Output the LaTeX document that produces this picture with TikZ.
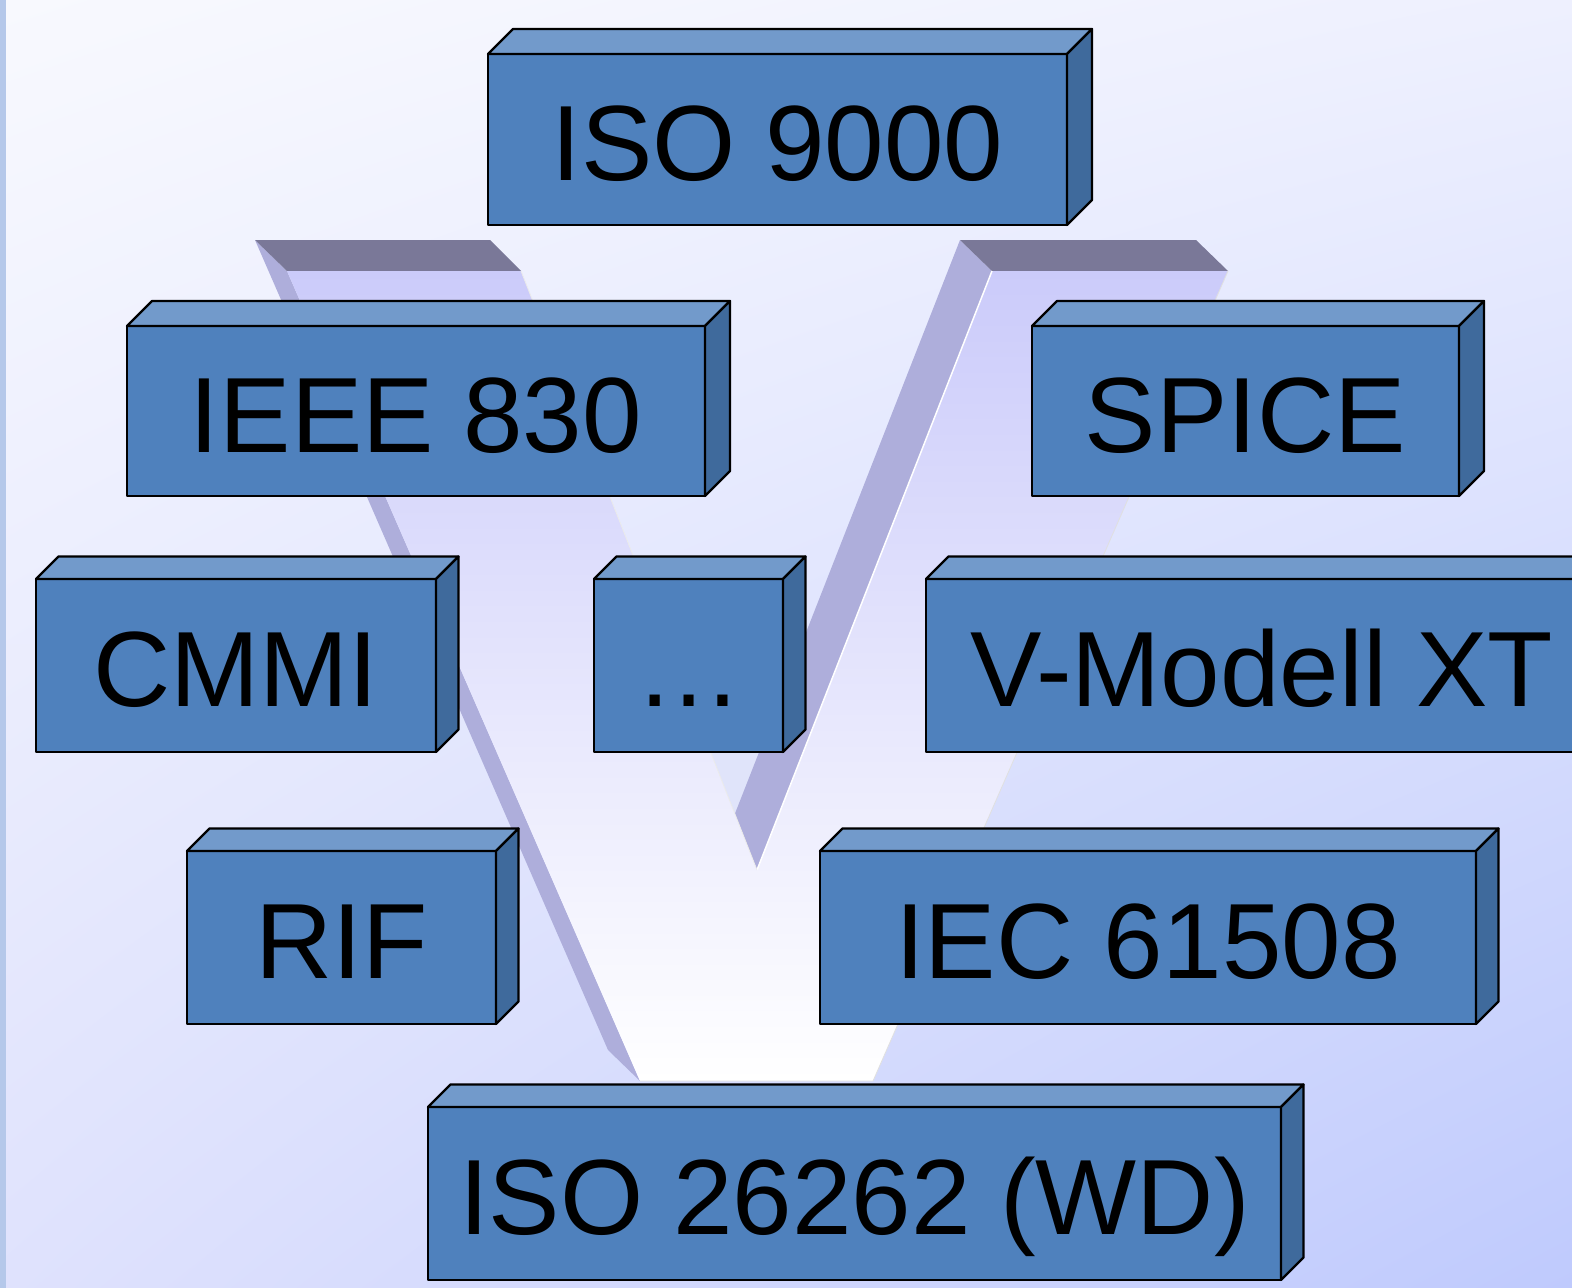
\documentclass[tikz,border=0pt]{standalone}
\usepackage{fontspec}
\setmainfont{Liberation Sans}
\usetikzlibrary{shadings}
\definecolor{bgUL}{HTML}{F8F9FE}
\definecolor{bgUR}{HTML}{EEF0FE}
\definecolor{bgLL}{HTML}{DFE2FD}
\definecolor{bgLR}{HTML}{BFCAFD}
\definecolor{stripblue}{HTML}{B5C8EA}
\definecolor{vtopc}{HTML}{7A7898}
\definecolor{vsidec}{HTML}{AEAEDB}
\definecolor{vfronttop}{HTML}{CBCBFA}
\definecolor{vfrontmid}{HTML}{E2E2FA}
\definecolor{vnotch}{HTML}{E0E4FA}
\definecolor{frontblue}{HTML}{4F81BD}
\definecolor{topblue}{HTML}{729ACB}
\definecolor{sideblue}{HTML}{3F6A9C}
\tikzset{
  boxfront/.style={draw=black, line width=2.3pt, fill=frontblue, inner sep=0pt, outer sep=0pt,
    text height=82pt, text depth=0pt, font=\fontsize{107}{107}\selectfont, line join=round},
  boxtop/.style={draw=black, line width=2.3pt, fill=topblue, line join=round},
  boxside/.style={draw=black, line width=2.3pt, fill=sideblue, line join=round},
  vtop/.style={fill=vtopc},
  vside/.style={fill=vsidec},
}
\newcommand\cuboid[7]{% name, cx, cy, w, h, depth, text
  \node[boxfront, minimum width=#4pt, minimum height=#5pt] (#1) at (#2,#3) {#7};
  \filldraw[boxtop] (#1.north west) -- ++(#6,-#6) -- ([shift={(#6,-#6)}]#1.north east) -- (#1.north east) -- cycle;
  \filldraw[boxside] (#1.north east) -- ++(#6,-#6) -- ([shift={(#6,-#6)}]#1.south east) -- (#1.south east) -- cycle;
}
\begin{document}
\begin{tikzpicture}[x=1pt,y=-1pt]
\useasboundingbox (0,0) rectangle (1572,1288);
\clip (0,0) rectangle (1572,1288);
% background
\shade[upper left=bgUL, upper right=bgUR, lower left=bgLL, lower right=bgLR] (0,0) rectangle (1572,1288);
\fill[stripblue] (0,0) rectangle (6,1288);
% the V
\fill[vnotch] (690,700) -- (780,700) -- (735,814) -- cycle;
\fill[vside] (255,240) -- (287,271) -- (640,1081) -- (608,1050) -- cycle;
\fill[vside] (960,240) -- (992,271) -- (757,870) -- (725,839) -- cycle;
\fill[vtop] (255,240) -- (490,240) -- (521,271) -- (287,271) -- cycle;
\fill[vtop] (960,240) -- (1196,240) -- (1228,271) -- (992,271) -- cycle;
\shade[top color=vfronttop, middle color=vfrontmid, bottom color=white]
  (287,271) -- (521,271) -- (757,870) -- (992,271) -- (1228,271) -- (873,1081) -- (640,1081) -- cycle;
\draw[white, line width=1.5pt] (992,271) -- (757,870);
\draw[black!12, line width=0.8pt] (640,1081) -- (873,1081) -- (1228,271);
\draw[black!8, line width=0.8pt] (521,271) -- (757,870);
% boxes
\cuboid{iso9000}{777.5}{139.5}{579}{171}{25}{ISO 9000}
\cuboid{ieee}{416}{411}{578}{170}{25}{IEEE 830}
\cuboid{spice}{1245.5}{411}{427}{170}{25}{SPICE}
\cuboid{cmmi}{236}{665.5}{400}{173}{22.5}{CMMI}
\cuboid{dots}{688.5}{665.5}{189}{173}{22.5}{…}
\cuboid{vmodell}{1262}{665.5}{672}{173}{22.5}{V-Modell XT}
\cuboid{rif}{341.5}{937.5}{309}{173}{22.5}{RIF}
\cuboid{iec}{1148}{937.5}{656}{173}{22.5}{IEC 61508}
\cuboid{iso26262}{854.5}{1193.5}{853}{173}{22.5}{ISO 26262 (WD)}
\end{tikzpicture}
\end{document}
